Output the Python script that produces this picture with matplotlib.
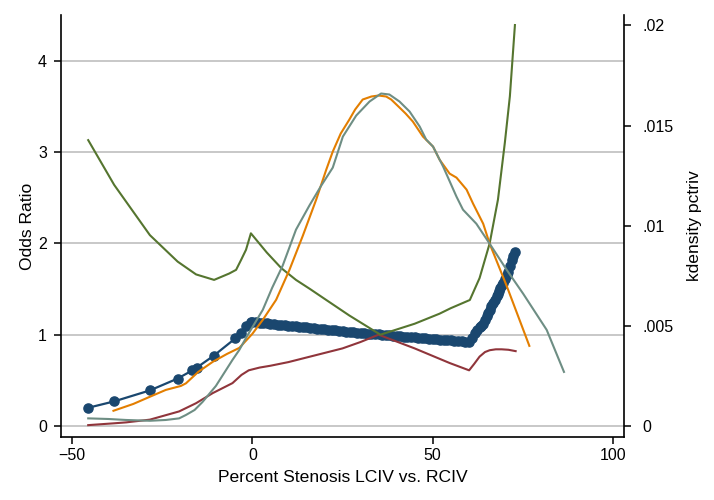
import matplotlib
matplotlib.use("Agg")
import matplotlib.pyplot as plt

plt.rcParams['font.family'] = ['Liberation Sans', 'DejaVu Sans']

# odds ratio estimate (dots)
or_x = [-45.5, -38.3, -28.4, -20.7, -16.6, -15.4, -10.7, -4.7, -3.1, -1.75, -0.4,
        0, 1, 2, 3, 4, 5, 6, 7, 8, 9, 10, 11, 12, 13, 14, 15, 16, 17, 18, 19, 20,
        21, 22, 23, 24, 25, 26, 27, 28, 29, 30, 31, 32, 33, 34, 35, 36, 37, 38, 39, 40,
        41, 42, 43, 44, 45, 46, 47, 48, 49, 50, 51, 52, 53, 54, 55, 56, 57, 58, 59, 60,
        61, 61.7, 62.4, 63, 63.5, 64, 64.5, 65, 65.4, 65.8, 66.3, 66.8, 67.2, 67.7, 68.1, 68.4,
        68.8, 69.1, 69.6, 70, 70.5, 70.9, 71.4, 71.9, 72.4, 72.8]
or_y = [0.20, 0.27, 0.39, 0.52, 0.61, 0.64, 0.77, 0.96, 1.02, 1.10, 1.14,
        1.140, 1.136, 1.132, 1.128, 1.124, 1.120, 1.115, 1.111, 1.107, 1.103, 1.099,
        1.095, 1.091, 1.087, 1.083, 1.079, 1.074, 1.070, 1.066, 1.062, 1.058,
        1.054, 1.050, 1.046, 1.042, 1.038, 1.034, 1.030, 1.027, 1.023, 1.020,
        1.017, 1.013, 1.010, 1.007, 1.003, 1.000, 0.997, 0.993, 0.990, 0.987,
        0.983, 0.980, 0.977, 0.973, 0.970, 0.967, 0.963, 0.960, 0.957, 0.953,
        0.950, 0.947, 0.943, 0.940, 0.937, 0.933, 0.930, 0.927, 0.923, 0.920,
        0.96, 1.02, 1.05, 1.08, 1.10, 1.12, 1.16, 1.20, 1.24, 1.27, 1.31, 1.35, 1.38, 1.42, 1.45, 1.48,
        1.51, 1.54, 1.57, 1.61, 1.65, 1.69, 1.75, 1.82, 1.86, 1.90]

# upper confidence bound
up_x = [-45.5, -38.3, -28.4, -20.7, -15.6, -10.6, -6.4, -4.5, -3.1, -1.75, -0.4, 4, 8, 12.1, 16,
        20.5, 26.9, 35.5, 45, 51.9, 55, 60.3, 63, 65.8, 68.1, 70, 71.4, 72.8]
up_y = [3.13, 2.64, 2.09, 1.80, 1.66, 1.60, 1.67, 1.71, 1.82, 1.93, 2.11, 1.90, 1.73, 1.60, 1.50,
        1.38, 1.21, 1.00, 1.12, 1.23, 1.29, 1.38, 1.62, 2.00, 2.48, 3.10, 3.61, 4.39]

# lower confidence bound
lo_x = [-45.5, -38.3, -35, -28.4, -20.3, -15.6, -11, -5.5, -3, -1, 0, 2, 5, 10, 15, 20, 25, 30, 35,
        45, 54.7, 60.1, 61.5, 63, 64.5, 65.8, 67.5, 69.1, 71, 73]
lo_y = [0.01, 0.03, 0.04, 0.07, 0.16, 0.25, 0.36, 0.47, 0.56, 0.61, 0.62, 0.64, 0.66, 0.70, 0.75, 0.80,
        0.85, 0.92, 1.00, 0.85, 0.69, 0.61, 0.68, 0.76, 0.81, 0.83, 0.84, 0.84, 0.835, 0.82]

# kernel densities of pctriv
kd1_x = [-38.5, -33, -28.4, -24, -19.8, -18.4, -15, -11, -7, -3.6, 0, 2.9, 6.6, 10.3, 14, 17.7,
         20.5, 22.3, 24.5, 26.9, 28.5, 30.6, 33, 35, 37.1, 38.5, 40.8, 42.5, 44.5, 47.3, 50.1,
         51.9, 54.7, 56.6, 59.4, 61.2, 64, 65.8, 70.5, 76.8]
kd1_y = [0.00076, 0.0011, 0.00146, 0.0018, 0.0020, 0.00213, 0.0027, 0.0032, 0.0036, 0.0039,
         0.0046, 0.0053, 0.0063, 0.0078, 0.0095, 0.0113, 0.0128, 0.0137, 0.0146, 0.0153, 0.0158,
         0.0163, 0.01645, 0.0165, 0.01645, 0.0163, 0.0159, 0.0156, 0.0152, 0.01445, 0.01395,
         0.0133, 0.0126, 0.0124, 0.0118, 0.0111, 0.0101, 0.0091, 0.0070, 0.0040]

kd2_x = [-45.5, -40, -35, -28.4, -24, -20.3, -18.4, -16, -13.8, -10.1, -5.5, -3.6, -1.75, 2.9,
         5.5, 8.4, 12.1, 15.8, 19.1, 22.3, 25.1, 28.8, 32.5, 35.7, 38, 40.8, 43.6, 46.4, 48.2,
         50.1, 52.9, 56.6, 58.4, 62.1, 65.8, 70.5, 75.1, 81.6, 86.4]
kd2_y = [0.00038, 0.00035, 0.0003, 0.00026, 0.0003, 0.00038, 0.00055, 0.0008, 0.0012, 0.0020,
         0.0033, 0.0038, 0.0044, 0.0058, 0.0069, 0.0080, 0.0098, 0.0110, 0.0120, 0.0129, 0.01445,
         0.0155, 0.0162, 0.0166, 0.01655, 0.0162, 0.0157, 0.01495, 0.0143, 0.01395, 0.01295,
         0.01145, 0.0108, 0.0101, 0.0091, 0.0078, 0.0066, 0.0048, 0.0027]

x_ticks = [-50, 0, 50, 100]
or_ticks = [0, 1, 2, 3, 4]
kd_ticks = [0, 0.005, 0.01, 0.015, 0.02]
kd_labels = ['0', '.005', '.01', '.015', '.02']

navy = '#1a476f'
maroon = '#90353b'
green = '#55752f'
orange = '#e37e00'
teal = '#6e8e84'
fs = 11.5
lfs = 12.6

fig = plt.figure(figsize=(7.14, 5), dpi=100)
ax = fig.add_axes([0.0854, 0.126, 0.7886, 0.844])

ax.plot(or_x, or_y, color=navy, lw=1.6, marker='o', ms=6.6, zorder=3)
ax.plot(lo_x, lo_y, color=maroon, lw=1.5, zorder=4)
ax.plot(up_x, up_y, color=green, lw=1.5, zorder=4)

ax.set_xlim(-53.05, 103.05)
ax.set_ylim(-0.12, 4.5)
ax.set_xticks(x_ticks)
ax.set_yticks(or_ticks)
ax.grid(axis='y', color='#c4c4c4', lw=1.3)
ax.set_axisbelow(True)
ax.spines['top'].set_visible(False)
ax.spines['right'].set_visible(False)
for s in ['left', 'bottom']:
    ax.spines[s].set_linewidth(1.2)
ax.tick_params(axis='y', direction='out', length=5, width=1.1, labelsize=fs, pad=5)
ax.tick_params(axis='x', direction='out', length=5, width=1.1, labelsize=fs, pad=3)
ax.set_ylabel('Odds Ratio', fontsize=lfs, labelpad=2)
ax.set_xlabel('Percent Stenosis LCIV vs. RCIV', fontsize=lfs, labelpad=5)

ax2 = ax.twinx()
ax2.plot(kd1_x, kd1_y, color=orange, lw=1.5)
ax2.plot(kd2_x, kd2_y, color=teal, lw=1.5)
ax2.set_ylim(-0.00055, 0.02052)
ax2.set_yticks(kd_ticks)
ax2.set_yticklabels(kd_labels)
ax2.spines['top'].set_visible(False)
ax2.spines['left'].set_visible(False)
ax2.spines['bottom'].set_visible(False)
ax2.spines['right'].set_linewidth(1.2)
ax2.tick_params(axis='y', direction='out', length=5, width=1.1, labelsize=fs, pad=8)
ax2.set_ylabel('kdensity pctriv', fontsize=lfs, labelpad=10)

fig.savefig('out.png', dpi=100)
